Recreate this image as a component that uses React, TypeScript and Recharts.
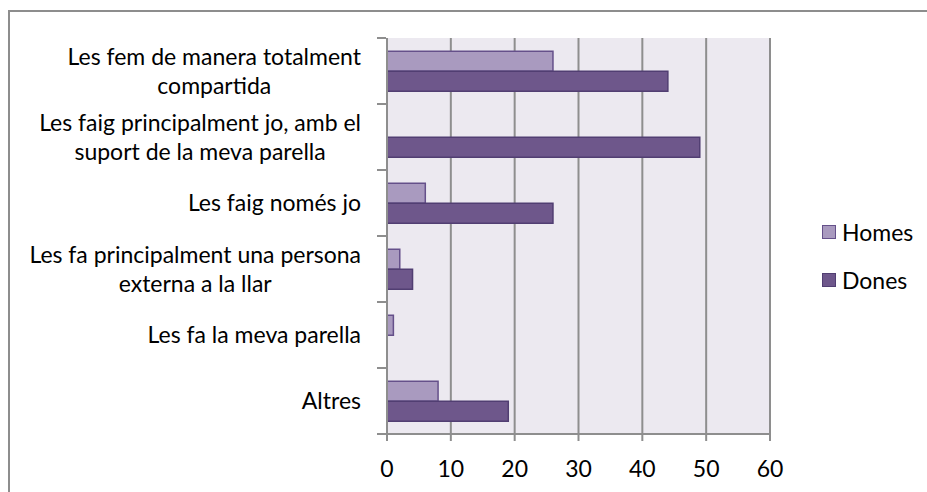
import React from 'react';
import { BarChart, Bar, XAxis, YAxis, CartesianGrid } from 'recharts';

const categories = [
  'Les fem de manera totalment\ncompartida',
  'Les faig principalment jo, amb el\nsuport de la meva parella',
  'Les faig només jo',
  'Les fa principalment una persona\nexterna a la llar',
  'Les fa la meva parella',
  'Altres',
];
const homes = [26, 0, 6, 2, 1, 8];
const dones = [44, 49, 26, 4, 0, 19];
const xTicks = [0, 10, 20, 30, 40, 50, 60];

const series = [
  { key: 'homes', name: 'Homes', fill: '#A99ABF', stroke: '#65508A' },
  { key: 'dones', name: 'Dones', fill: '#6E578B', stroke: '#513E72' },
];

const data = categories.map((name, i) => ({ name, homes: homes[i], dones: dones[i] }));

const FONT = 'Lato, "DejaVu Sans", sans-serif';
const FS = 23;
const GRID = '#8E8E8E';

let ctx: CanvasRenderingContext2D | null = null;
const measure = (s: string) => {
  if (!ctx) ctx = document.createElement('canvas').getContext('2d');
  if (!ctx) return s.length * FS * 0.5;
  ctx.font = `${FS}px Lato`;
  return ctx.measureText(s).width;
};

// category labels: lines centred in a block that is right-aligned, ticks between categories
const CategoryTick = ({ x, y, payload }: any) => {
  const lines: string[] = String(payload.value).split('\n');
  const w = Math.max(...lines.map(measure));
  const right = x - 18;
  const cx = right - w / 2;
  const lh = 29;
  const y0 = y - ((lines.length - 1) * lh) / 2;
  const band = 66;
  const ax = x + 7;
  return (
    <g>
      <line x1={ax - 9} x2={ax} y1={y - band / 2} y2={y - band / 2} stroke={GRID} strokeWidth={2} />
      <line x1={ax - 9} x2={ax} y1={y + band / 2} y2={y + band / 2} stroke={GRID} strokeWidth={2} />
      <text textAnchor="middle" fontFamily={FONT} fontSize={FS} fill="#000">
        {lines.map((l, i) => (
          <tspan key={i} x={cx} y={y0 + i * lh} dy="0.35em">{l}</tspan>
        ))}
      </text>
    </g>
  );
};

export default function App() {
  return (
    <div style={{ position: 'absolute', left: 0, top: 0, width: 927, height: 492, background: '#fff', overflow: 'hidden' }}>
      <div style={{ position: 'absolute', left: 8, top: 10, width: 940, height: 520, border: '2px solid #8d8d8d' }} />
      <div style={{ position: 'absolute', left: 0, top: 0 }}>
        <BarChart
          width={927}
          height={492}
          data={data}
          layout="vertical"
          margin={{ top: 38, right: 157, bottom: 0, left: 0 }}
          barCategoryGap="20%"
          barGap={0}
        >
          <CartesianGrid horizontal={false} fill="#ECE9F0" stroke={GRID} strokeWidth={2} />
          <XAxis
            type="number"
            domain={[0, 60]}
            ticks={xTicks}
            height={58}
            axisLine={{ stroke: GRID, strokeWidth: 2 }}
            tickLine={{ stroke: GRID, strokeWidth: 2 }}
            tickSize={7}
            tickMargin={20}
            tick={{ fill: '#000', fontSize: FS, fontFamily: FONT }}
            interval={0}
          />
          <YAxis
            type="category"
            dataKey="name"
            width={387}
            axisLine={{ stroke: GRID, strokeWidth: 2 }}
            tickLine={false}
            tick={<CategoryTick />}
            interval={0}
          />
          {series.map((s) => (
            <Bar key={s.key} dataKey={s.key} name={s.name} fill={s.fill} stroke={s.stroke} strokeWidth={1.5} isAnimationActive={false} />
          ))}
        </BarChart>
      </div>
      <div style={{ position: 'absolute', left: 822, top: 208, fontFamily: FONT, fontSize: FS, color: '#000' }}>
        {series.map((s) => (
          <div key={s.key} style={{ display: 'flex', alignItems: 'center', height: 48 }}>
            <span style={{ width: 12, height: 12, background: s.fill, border: `1.5px solid ${s.stroke}`, marginRight: 6 }} />
            <span>{s.name}</span>
          </div>
        ))}
      </div>
    </div>
  );
}
